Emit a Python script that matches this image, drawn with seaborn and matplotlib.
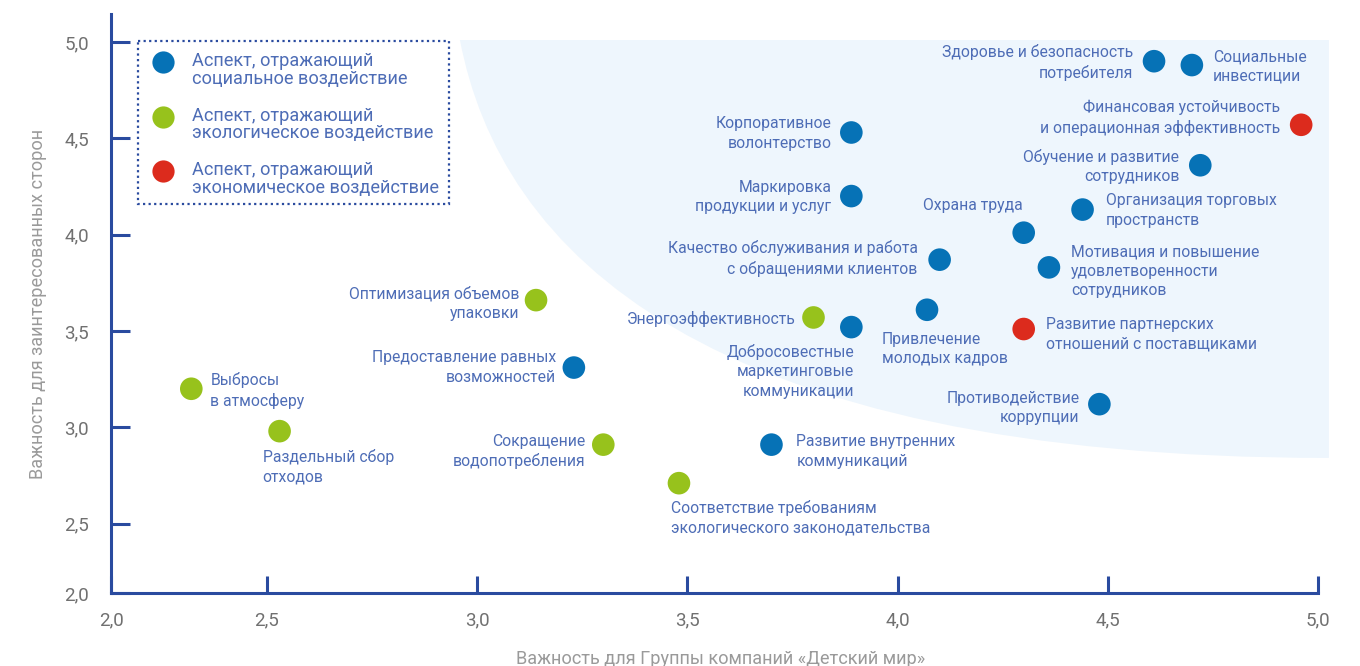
import numpy as np
import pandas as pd
import seaborn as sns
import matplotlib.pyplot as plt
from matplotlib.lines import Line2D
from matplotlib.path import Path
from matplotlib.patches import PathPatch, Rectangle
from matplotlib.transforms import Affine2D

# --- data ---
aspects = [
    "Выбросы\nв атмосферу",
    "Раздельный сбор\nотходов",
    "Оптимизация объемов\nупаковки",
    "Предоставление равных\nвозможностей",
    "Сокращение\nводопотребления",
    "Соответствие требованиям\nэкологического законодательства",
    "Развитие внутренних\nкоммуникаций",
    "Энергоэффективность",
    "Добросовестные\nмаркетинговые\nкоммуникации",
    "Привлечение\nмолодых кадров",
    "Корпоративное\nволонтерство",
    "Маркировка\nпродукции и услуг",
    "Качество обслуживания и работа\nс обращениями клиентов",
    "Охрана труда",
    "Мотивация и повышение\nудовлетворенности\nсотрудников",
    "Организация торговых\nпространств",
    "Развитие партнерских\nотношений с поставщиками",
    "Противодействие\nкоррупции",
    "Обучение и развитие\nсотрудников",
    "Финансовая устойчивость\nи операционная эффективность",
    "Здоровье и безопасность\nпотребителя",
    "Социальные\nинвестиции",
]
company_importance = [2.32, 2.53, 3.14, 3.23, 3.30, 3.48, 3.70, 3.80, 3.89, 4.07, 3.89,
                      3.89, 4.10, 4.30, 4.36, 4.44, 4.30, 4.48, 4.72, 4.96, 4.61, 4.70]
stakeholder_importance = [3.20, 2.98, 3.66, 3.31, 2.91, 2.71, 2.91, 3.57, 3.52, 3.61, 4.53,
                          4.20, 3.87, 4.01, 3.83, 4.13, 3.51, 3.12, 4.36, 4.57, 4.90, 4.88]
aspect_type = ["eco", "eco", "eco", "soc", "eco", "eco", "soc", "eco", "soc", "soc", "soc",
               "soc", "soc", "soc", "soc", "soc", "econ", "soc", "soc", "econ", "soc", "soc"]

type_names = {
    "soc": "Аспект, отражающий\nсоциальное воздействие",
    "eco": "Аспект, отражающий\nэкологическое воздействие",
    "econ": "Аспект, отражающий\nэкономическое воздействие",
}
tick_values = [2.5, 3.0, 3.5, 4.0, 4.5, 5.0]
tick_labels = ["2,5", "3,0", "3,5", "4,0", "4,5", "5,0"]

# label placement: offset in points, ha, va
label_pos = [
    (13.7, -1.4, "left", "center"),
    (-12.2, -13, "left", "top"),
    (-12.2, -2.2, "right", "center"),
    (-13, 0, "right", "center"),
    (-13, -5, "right", "center"),
    (-5.8, -12.2, "left", "top"),
    (18, -5, "left", "center"),
    (-13, -1.4, "right", "center"),
    (2.2, -12.2, "right", "top"),
    (-32.4, -15.8, "left", "top"),
    (-14.4, -0.7, "right", "center"),
    (-14.4, -0.7, "right", "center"),
    (-15.8, 0.7, "right", "center"),
    (-0.7, 19.4, "right", "center"),
    (15.8, -2.9, "left", "center"),
    (16.6, -0.7, "left", "center"),
    (15.8, -3.6, "left", "center"),
    (-14.4, -2.9, "right", "center"),
    (-15.1, -0.7, "right", "center"),
    (-15.1, 5, "right", "center"),
    (-15.1, -1.1, "right", "center"),
    (15.1, -1.1, "left", "center"),
]

df = pd.DataFrame({"aspect": aspects, "company": company_importance,
                   "stake": stakeholder_importance, "type": aspect_type})

palette = {"soc": "#0672b6", "eco": "#97c21c", "econ": "#dc2b1d"}
axis_col = "#2a4b9f"
text_col = "#4e6db6"

sns.set_style("white")
plt.rcParams["font.family"] = ["Roboto", "DejaVu Sans"]

W, H = 1360, 666
fig = plt.figure(figsize=(W / 100, H / 100), dpi=100)
xmin, xmax = 2.129, 5.03
ymin, ymax = 2.14, 5.145
ax = fig.add_axes([111 / W, 1 - 593 / H, (1330.6 - 111) / W, (593 - 14) / H])
ax.set_xlim(xmin, xmax)
ax.set_ylim(ymin, ymax)

# light blue zone of material aspects
verts = [(2.959, 5.01), (3.055, 3.92), (3.531, 2.841), (5.026, 2.841),
         (5.026, 5.01), (2.959, 5.01)]
codes = [Path.MOVETO, Path.CURVE4, Path.CURVE4, Path.CURVE4, Path.LINETO, Path.CLOSEPOLY]
ax.add_patch(PathPatch(Path(verts, codes), facecolor="#eef6fd", edgecolor="none", zorder=0))

sns.scatterplot(data=df, x="company", y="stake", hue="type", palette=palette,
                s=265, edgecolor="none", legend=False, ax=ax, zorder=3)

for (name, x, y), (dx, dy, ha, va) in zip(zip(aspects, company_importance, stakeholder_importance), label_pos):
    ax.annotate(name, (x, y), xytext=(dx, dy), textcoords="offset points",
                ha=ha, va=va, fontsize=11.3, color=text_col, linespacing=1.37, zorder=4)

# axes styling
for side in ["top", "right"]:
    ax.spines[side].set_visible(False)
for side in ["left", "bottom"]:
    ax.spines[side].set_color(axis_col)
    ax.spines[side].set_linewidth(2.2)
ax.spines["bottom"].set_bounds(xmin, 5.0)

ax.set_xticks([xmin] + tick_values)
ax.set_xticklabels(["2,0"] + tick_labels)
ax.set_yticks([ymin] + tick_values)
ax.set_yticklabels(["2,0"] + tick_labels)
ax.tick_params(axis="x", bottom=True, direction="in", length=12, width=2.2, color=axis_col,
               labelcolor="#707070", labelsize=13.5, pad=13)
ax.tick_params(axis="y", left=True, direction="in", length=14, width=2.2, color=axis_col,
               labelcolor="#707070", labelsize=13.5, pad=16)

ax.set_xlabel("Важность для Группы компаний «Детский мир»", fontsize=13.1, color="#9a9a9a", labelpad=15)
ax.set_ylabel("Важность для заинтересованных сторон", fontsize=13.1, color="#9a9a9a", labelpad=12)

# legend box (marker sits on the first line of each label)
px = Affine2D().scale(1 / W, -1 / H).translate(0, 1) + fig.transFigure
fig.patches.append(Rectangle((138, 41), 311, 163, transform=px, facecolor="white",
                             edgecolor=axis_col, linewidth=1.6, linestyle=(0, (1, 1.5))))
for i, key in enumerate(type_names):
    row_y = 62 + i * 54.5
    fig.add_artist(Line2D([163], [row_y], transform=px, marker="o", markersize=16,
                          markerfacecolor=palette[key], markeredgecolor="none", linestyle="none"))
    fig.text(192, row_y + 8, type_names[key], transform=px, fontsize=13.1, color=text_col,
             ha="left", va="center", linespacing=0.95)

fig.savefig("out.png", dpi=100)
